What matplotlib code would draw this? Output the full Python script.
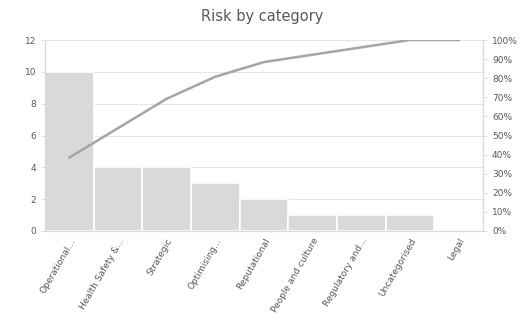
import numpy as np
import matplotlib
matplotlib.use('Agg')
import matplotlib.pyplot as plt
from matplotlib.ticker import PercentFormatter

categories = ['Operational...', 'Health Safety &...', 'Strategic', 'Optimising...',
              'Reputational', 'People and culture', 'Regulatory and...',
              'Uncategorised', 'Legal']
counts = [10, 4, 4, 3, 2, 1, 1, 1, 0]

cum_pct = np.cumsum(counts) / np.sum(counts) * 100

text_col = '#595959'
grid_col = '#d9d9d9'

fig = plt.figure(figsize=(5.23, 3.32), dpi=100)
ax = fig.add_axes([45/523, 1 - 231/332, (483-45)/523, (231-40)/332])
x = np.arange(len(categories))

ax.bar(x, counts, width=1.0, color='#d9d9d9', edgecolor='white', linewidth=1.2, zorder=2)
ax.set_xlim(-0.5, len(categories) - 0.5)
ax.set_ylim(0, 12)
ax.set_yticks(range(0, 13, 2))
ax.grid(axis='y', color='#e6e6e6', linewidth=0.8, zorder=0)
ax.set_axisbelow(True)

ax2 = ax.twinx()
ax2.plot(x, cum_pct, color='#a5a5a5', linewidth=1.8, zorder=3)
ax2.set_ylim(0, 100)
ax2.set_yticks(range(0, 101, 10))
ax2.yaxis.set_major_formatter(PercentFormatter(decimals=0))

for a in (ax, ax2):
    for s in ('top',):
        a.spines[s].set_visible(False)
    for s in ('left', 'right', 'bottom'):
        a.spines[s].set_color(grid_col)
        a.spines[s].set_linewidth(0.8)
    a.tick_params(colors=text_col, labelsize=6.5, length=3, width=0.6)
    a.tick_params(axis='y', color=grid_col)

ax.tick_params(axis='x', length=0, pad=4)
ax.set_xticks(x)
ax.set_xticklabels(categories, rotation=60, ha='right', rotation_mode='anchor',
                   fontsize=6.5, color=text_col)

fig.text(262/523, 1 - 16/332, 'Risk by category', ha='center', va='center',
         fontsize=10.5, color=text_col)

fig.savefig('out.png', dpi=100)
